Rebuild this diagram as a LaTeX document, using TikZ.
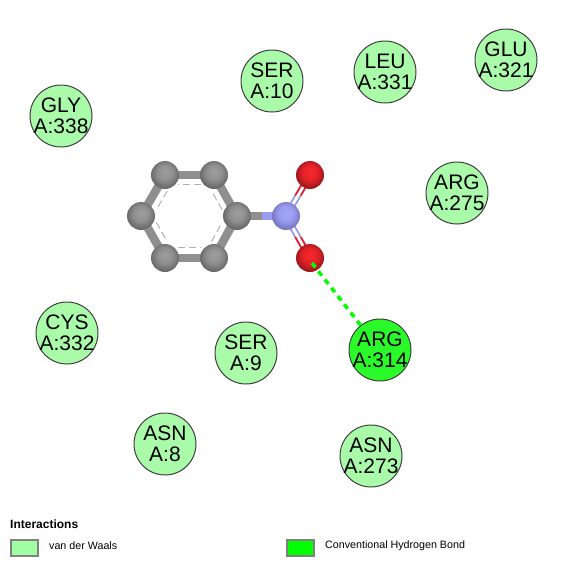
\documentclass[tikz,border=0pt]{standalone}
\usepackage{fontspec}
\setmainfont{Liberation Sans}
\usetikzlibrary{calc,backgrounds}
\definecolor{vdwfill}{HTML}{A9FBA9}
\definecolor{hbfill}{HTML}{2AFA2A}
\definecolor{vdwkey}{HTML}{A0FFA0}
\definecolor{hbkey}{HTML}{00FF00}
\definecolor{carbon}{HTML}{8F8F8F}
\definecolor{nitrogen}{HTML}{9A9CF0}
\definecolor{oxygen}{HTML}{E0202A}
\pgfdeclareradialshading{cball}{\pgfpoint{0pt}{6pt}}{rgb(0pt)=(0.62,0.62,0.62); rgb(14pt)=(0.56,0.56,0.56); rgb(25pt)=(0.42,0.42,0.42); rgb(50pt)=(0.42,0.42,0.42)}
\pgfdeclareradialshading{nball}{\pgfpoint{0pt}{6pt}}{rgb(0pt)=(0.64,0.65,0.97); rgb(14pt)=(0.60,0.61,0.94); rgb(25pt)=(0.47,0.48,0.76); rgb(50pt)=(0.47,0.48,0.76)}
\pgfdeclareradialshading{oball}{\pgfpoint{0pt}{6pt}}{rgb(0pt)=(0.96,0.16,0.18); rgb(14pt)=(0.90,0.13,0.15); rgb(25pt)=(0.62,0.10,0.12); rgb(50pt)=(0.62,0.10,0.12)}
\begin{document}
\begin{tikzpicture}[x=1pt, y=-1pt,
  residue/.style={circle, draw=black!75, line width=1pt, fill=vdwfill, minimum size=62pt, inner sep=-8pt,
    align=center, font=\fontsize{21}{20.5}\selectfont},
  hbresidue/.style={residue, fill=hbfill},
  atom/.style={circle, minimum size=28pt, inner sep=0pt},
  catom/.style={atom, shading=cball},
  natom/.style={atom, shading=nball},
  oatom/.style={atom, shading=oball},
  bond/.style={line width=8.5pt, draw=carbon},
  thinbond/.style={line width=1.8pt},
  keybox/.style={draw=black!50, line width=2pt, minimum width=27pt, minimum height=16pt, inner sep=0pt},
  keytext/.style={anchor=west, inner sep=0pt, font=\fontsize{10.7}{12}\selectfont}]
\useasboundingbox (0,0) rectangle (565,566);
\node[residue] (gly338) at (61,116) {GLY\\A:338};
\node[residue] (ser10) at (272,81) {SER\\A:10};
\node[residue] (leu331) at (385,72) {LEU\\A:331};
\node[residue] (glu321) at (506,60) {GLU\\A:321};
\node[residue] (arg275) at (457,193) {ARG\\A:275};
\node[residue] (cys332) at (67,333) {CYS\\A:332};
\node[residue] (ser9) at (246,353) {SER\\A:9};
\node[hbresidue] (arg314) at (380,350) {ARG\\A:314};
\node[residue] (asn8) at (165,444) {ASN\\A:8};
\node[residue] (asn273) at (371,456) {ASN\\A:273};
% ligand
\node[catom] (c1) at (237,216) {};
\node[catom] (c2) at (214,175) {};
\node[catom] (c3) at (165,175) {};
\node[catom] (c4) at (141,216) {};
\node[catom] (c5) at (165,258) {};
\node[catom] (c6) at (214,258) {};
\node[natom] (n1) at (286,216) {};
\node[oatom] (o1) at (310,175) {};
\node[oatom] (o2) at (310,258) {};
\coordinate (ring) at (189.5,216);
\begin{scope}[on background layer]
\foreach \a/\b in {c1/c2, c2/c3, c3/c4, c4/c5, c5/c6, c6/c1} {
  \draw[bond] (\a.center) -- (\b.center);
  \draw[carbon!70, line width=1pt, dash pattern=on 7pt off 4pt]
    ($($(\a)!.2!(\b)$)!.24!(ring)$) -- ($($(\a)!.8!(\b)$)!.24!(ring)$);
}
\draw[bond] (c1.center) -- ($(c1)!.5!(n1)$);
\draw[bond, draw=nitrogen] ($(c1)!.5!(n1)$) -- (n1.center);
% double bonds
\foreach \o/\dx in {o1/2.8, o1/-2.8, o2/2.8, o2/-2.8} {
  \draw[thinbond, draw=nitrogen] ([xshift=\dx pt]n1.center) -- ([xshift=\dx pt]$(n1)!.5!(\o)$);
  \draw[thinbond, draw=oxygen] ([xshift=\dx pt]$(n1)!.5!(\o)$) -- ([xshift=\dx pt]\o.center);
}
\end{scope}
\draw[hbkey, line width=3.5pt, dash pattern=on 5.5pt off 5pt] (312,263) -- (arg314);
% legend
\node[anchor=west, inner sep=0pt, font=\fontsize{12}{13}\selectfont\bfseries] (title) at (10,524) {Interactions};
\node[keybox, fill=vdwkey] (vdwbox) at (24,547.5) {};
\node[keytext] (vdwtext) at (49,546) {van der Waals};
\node[keybox, fill=hbkey] (hbbox) at (300,547.5) {};
\node[keytext] (hbtext) at (325,546) {Conventional Hydrogen Bond};
\end{tikzpicture}
\end{document}
